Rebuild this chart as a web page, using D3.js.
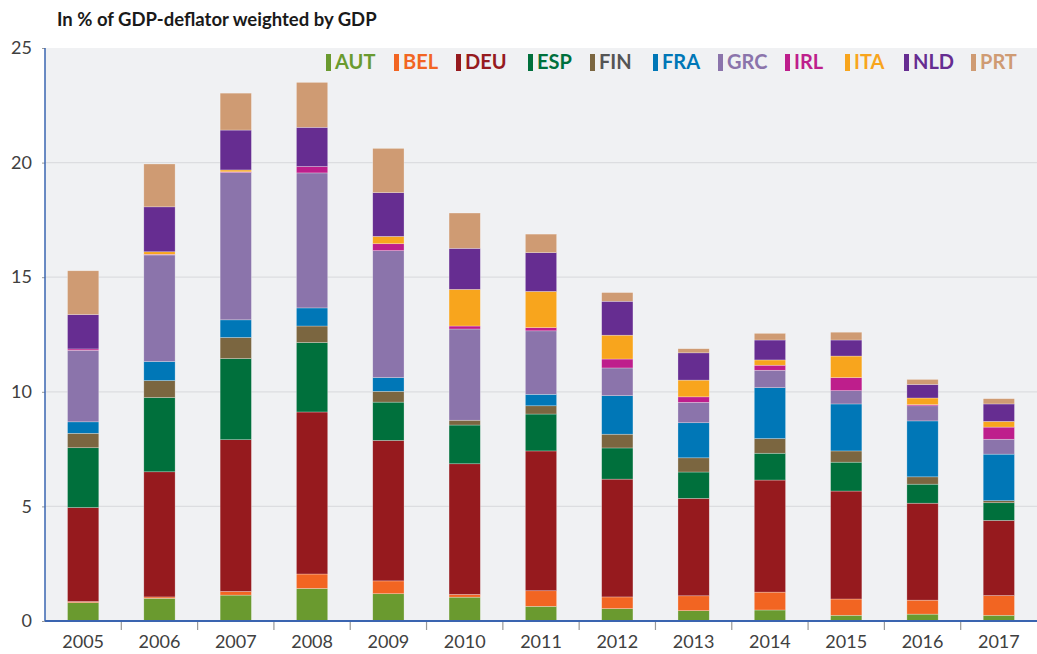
<!DOCTYPE html>
<html>
<head>
<meta charset="utf-8">
<script src="https://cdn.jsdelivr.net/npm/d3@7"></script>
<style>
  body { margin: 0; background: #fff; }
  svg text { font-family: Lato, "Open Sans", sans-serif; }
</style>
</head>
<body>
<div id="chart"></div>
<script>
var years = ["2005","2006","2007","2008","2009","2010","2011","2012","2013","2014","2015","2016","2017"];
var countries = ["AUT","BEL","DEU","ESP","FIN","FRA","GRC","IRL","ITA","NLD","PRT"];
var colors = ["#6a9a2f","#f26522","#961a1e","#00703c","#7b6640","#0077b7","#8b74ab","#be1e8c","#f8a51d","#662d91","#cf9b73"];
var labelColors = ["#6a9a2f","#f26522","#961a1e","#00703c","#555555","#0077b7","#8b74ab","#be1e8c","#f8a51d","#662d91","#cf9b73"];
var yTicks = [0, 5, 10, 15, 20, 25];

// one array per country, values per year (2005..2017)
var AUT = [0.80, 0.99, 1.13, 1.42, 1.19, 1.04, 0.64, 0.54, 0.45, 0.48, 0.25, 0.30, 0.25];
var BEL = [0.05, 0.06, 0.16, 0.63, 0.56, 0.12, 0.68, 0.51, 0.65, 0.78, 0.71, 0.61, 0.86];
var DEU = [4.10, 5.46, 6.62, 7.07, 6.13, 5.70, 6.10, 5.14, 4.25, 4.89, 4.71, 4.23, 3.28];
var ESP = [2.61, 3.24, 3.54, 3.03, 1.67, 1.69, 1.61, 1.36, 1.15, 1.17, 1.26, 0.83, 0.77];
var FIN = [0.63, 0.74, 0.92, 0.72, 0.47, 0.21, 0.36, 0.60, 0.62, 0.64, 0.49, 0.32, 0.09];
var FRA = [0.50, 0.83, 0.77, 0.79, 0.60, 0.00, 0.50, 1.68, 1.53, 2.22, 2.05, 2.44, 2.03];
var GRC = [3.12, 4.65, 6.43, 5.89, 5.54, 3.98, 2.77, 1.21, 0.89, 0.76, 0.58, 0.66, 0.65];
var IRL = [0.06, 0.03, 0.03, 0.28, 0.30, 0.13, 0.14, 0.39, 0.24, 0.22, 0.57, 0.05, 0.53];
var ITA = [0.00, 0.11, 0.08, 0.00, 0.32, 1.60, 1.58, 1.04, 0.73, 0.23, 0.94, 0.29, 0.25];
var NLD = [1.50, 1.96, 1.74, 1.71, 1.91, 1.79, 1.69, 1.48, 1.19, 0.87, 0.70, 0.59, 0.76];
var PRT = [1.91, 1.87, 1.61, 1.96, 1.93, 1.54, 0.81, 0.38, 0.18, 0.29, 0.34, 0.22, 0.23];
var series = [AUT, BEL, DEU, ESP, FIN, FRA, GRC, IRL, ITA, NLD, PRT];

var W = 1037, H = 654;
var margin = { top: 48, right: 0, bottom: 33, left: 45 },
    width = W - margin.left - margin.right,
    height = H - margin.top - margin.bottom;

// build rows for d3.stack
var rows = years.map(function (y, i) {
  var r = { year: y };
  countries.forEach(function (c, k) { r[c] = series[k][i]; });
  return r;
});
var stacked = d3.stack().keys(countries)(rows);

var svg = d3.select("#chart").append("svg")
    .attr("width", W)
    .attr("height", H);

svg.append("text")
    .attr("x", 57)
    .attr("y", 26)
    .style("font-size", "18.5px")
    .style("font-weight", "bold")
    .attr("fill", "#1a1a1a")
    .text("In % of GDP-deflator weighted by GDP");

var g = svg.append("g")
    .attr("transform", "translate(" + margin.left + "," + margin.top + ")");

var x = d3.scaleBand().domain(years).range([0, width]).paddingInner(0.59).paddingOuter(0.295);
var xb = d3.scaleBand().domain(years).range([0, width]);
var y = d3.scaleLinear().domain([0, 25]).range([height, 0]);
var color = d3.scaleOrdinal().domain(countries).range(colors);

g.append("rect")
    .attr("width", width)
    .attr("height", height)
    .attr("fill", "#f0f1f3");

// gridlines
g.selectAll(".grid")
    .data(yTicks.filter(function (d) { return d > 0 && d < 25; }))
    .enter().append("line")
      .attr("x1", 0).attr("x2", width)
      .attr("y1", function (d) { return y(d); })
      .attr("y2", function (d) { return y(d); })
      .attr("stroke", "#dcdde0")
      .attr("stroke-width", 1.2);

// bars
var layer = g.selectAll(".layer")
    .data(stacked)
    .enter().append("g")
      .attr("fill", function (d) { return color(d.key); });

layer.selectAll("rect")
    .data(function (d) { return d; })
    .enter().append("rect")
      .attr("x", function (d) { return x(d.data.year); })
      .attr("width", x.bandwidth())
      .attr("y", function (d) { return y(d[1]); })
      .attr("height", function (d) { return y(d[0]) - y(d[1]); })
      .attr("stroke", "rgba(255,255,255,0.45)")
      .attr("stroke-width", 0.6);

// y axis
var yAxis = g.append("g")
    .call(d3.axisLeft(y).tickValues(yTicks).tickSize(3).tickPadding(10).tickFormat(d3.format("d")));
yAxis.select(".domain").remove();
yAxis.selectAll(".tick line").attr("stroke", "#999");
yAxis.selectAll("text").style("font-size", "18px").attr("fill", "#404040");
g.append("line")
    .attr("x1", 0).attr("x2", 0).attr("y1", 0).attr("y2", height)
    .attr("stroke", "#3a64b0").attr("stroke-width", 1.5);

// x axis
var xAxis = g.append("g")
    .attr("transform", "translate(0," + height + ")")
    .call(d3.axisBottom(x).tickSize(0).tickPadding(14));
xAxis.select(".domain").remove();
xAxis.selectAll("text").style("font-size", "18px").attr("fill", "#404040");
g.selectAll(".xtick")
    .data(years.slice(1))
    .enter().append("line")
      .attr("x1", function (d) { return xb(d); })
      .attr("x2", function (d) { return xb(d); })
      .attr("y1", height).attr("y2", height + 9)
      .attr("stroke", "#999").attr("stroke-width", 1.2);
g.append("line")
    .attr("x1", 0).attr("x2", width).attr("y1", height).attr("y2", height)
    .attr("stroke", "#3a64b0").attr("stroke-width", 2);

// legend
var legendX = [281, 349, 411, 483, 545, 608, 673, 740, 800, 859, 926];
var legend = g.selectAll(".legend")
    .data(countries)
    .enter().append("g")
      .attr("transform", function (d, i) { return "translate(" + legendX[i] + ",6)"; });
legend.append("rect")
    .attr("width", 5).attr("height", 17)
    .attr("fill", function (d) { return color(d); });
legend.append("text")
    .attr("x", 9).attr("y", 15)
    .style("font-size", "20px").style("font-weight", "bold")
    .attr("fill", function (d, i) { return labelColors[i]; })
    .text(function (d) { return d; });
</script>
</body>
</html>
